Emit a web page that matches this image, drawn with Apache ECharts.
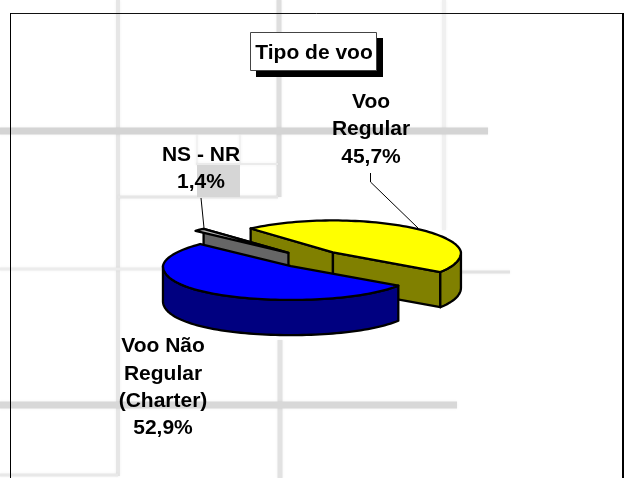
<!DOCTYPE html>
<html>
<head>
<meta charset="utf-8">
<style>html,body{margin:0;padding:0;background:#fff}#c{width:624px;height:478px}</style>
<script src="https://cdn.jsdelivr.net/npm/echarts@6/dist/echarts.min.js"></script>
</head>
<body>
<div id="c"></div>
<script>
var chartTitle = 'Tipo de voo';
var categories = ['Voo\nRegular', 'NS - NR', 'Voo Não\nRegular\n(Charter)'];
var values = [45.7, 1.4, 52.9];
var topColors = ['#FFFF00', '#B8B8B8', '#0000FF'];
var sideColors = ['#808000', '#666666', '#000080'];

// 3D pie geometry, in pie-radius units
var frontAngle = 33, explode = 0.258, tiltFront = 0.282, tiltBack = 0.25, depth = 0.275;
var backShrink = [0.04, 0, 0.04];
var total = values.reduce(function (a, b) { return a + b; }, 0);
var RAD = Math.PI / 180;

// Angles run clockwise on screen from the front-right boundary, last category first
function slice(i) {
  var spans = [], start = frontAngle;
  for (var j = values.length - 1; j >= 0; j--) {
    var sweep = values[j] / total * 360;
    spans[j] = [start, start + sweep];
    start += sweep;
  }
  return spans[i];
}
function rimPt(i, c, deg, drop) {
  var s = Math.sin(deg * RAD), k = Math.cos(deg * RAD);
  if (s > 0) {
    return [c[0] + k, c[1] - s * (0.30 - 0.035 * s) - drop];
  }
  return [c[0] + k * (1 + backShrink[i] * s), c[1] - s * tiltBack - drop];
}

function renderItem(params, api) {
  var i = api.value(0);
  var sp = slice(i);
  var mid = (sp[0] + sp[1]) / 2;
  var ms = Math.sin(mid * RAD);
  var c = [explode * Math.cos(mid * RAD), -explode * ms * (ms > 0 ? tiltFront : tiltBack)];
  var toPx = function (p) { return api.coord(p); };
  var kids = [];
  function poly(pts, fill) {
    kids.push({ type: 'polygon', shape: { points: pts.map(toPx) },
      style: { fill: fill, stroke: '#000', lineWidth: 2.3, lineJoin: 'round' } });
  }
  var c2 = [c[0], c[1] - depth];
  // Cut faces turned to the viewer
  var faces = i === 0 ? [sp[0], sp[1]] : (i === 1 ? [sp[1]] : []);
  faces.forEach(function (deg) {
    poly([c, rimPt(i, c, deg, 0), rimPt(i, c, deg, depth), c2], sideColors[i]);
  });
  // Outer wall: front half of the rim only
  var lo = sp[0], hi = sp[1], d;
  [[0, 180], [360, 540]].forEach(function (r) {
    var s = Math.max(lo, r[0]), e = Math.min(hi, r[1]);
    if (e <= s) return;
    var up = [], dn = [];
    for (d = s; d < e; d += 2) { up.push(rimPt(i, c, d, 0)); dn.push(rimPt(i, c, d, depth)); }
    up.push(rimPt(i, c, e, 0)); dn.push(rimPt(i, c, e, depth));
    poly(up.concat(dn.reverse()), sideColors[i]);
  });
  // Top face
  var top = [c];
  for (d = lo; d < hi; d += 2) top.push(rimPt(i, c, d, 0));
  top.push(rimPt(i, c, hi, 0));
  poly(top, topColors[i]);
  return { type: 'group', children: kids };
}

function fmt(v) { return v.toFixed(1).replace('.', ',') + '%'; }
function label(x, y, text) {
  return { type: 'text', x: x, y: y, z: 20, silent: true,
    style: { text: text, align: 'center', verticalAlign: 'middle', fill: '#000',
      font: 'bold 21px "Liberation Sans", Arial, sans-serif', lineHeight: 27.4 } };
}
function bgLine(x1, y1, x2, y2, w, col) {
  return { type: 'line', z: 0, silent: true, shape: { x1: x1, y1: y1, x2: x2, y2: y2 },
    style: { stroke: col, lineWidth: w, shadowBlur: 3, shadowColor: 'rgba(0,0,0,0.06)' } };
}
function leader(points) {
  return { type: 'polyline', z: 5, silent: true, shape: { points: points },
    style: { stroke: '#000', lineWidth: 1, fill: null } };
}

var chart = echarts.init(document.getElementById('c'), null, { renderer: 'canvas' });
chart.setOption({
  animation: false,
  backgroundColor: '#ffffff',
  grid: { left: 55.4, top: 130.7, width: 512, height: 256, containLabel: false },
  xAxis: { type: 'value', min: -2, max: 2, show: false },
  yAxis: { type: 'value', min: -1, max: 1, show: false },
  series: [{
    type: 'custom', coordinateSystem: 'cartesian2d', z: 10, silent: true, clip: false,
    renderItem: renderItem,
    encode: { x: 1, y: 1 },
    data: values.map(function (v, i) { return [i, 0, v]; })
  }],
  graphic: { elements: [
    bgLine(118, 0, 118, 476, 4, '#e6e6e6'),
    bgLine(279, 0, 279, 197, 5, '#dedede'),
    bgLine(280, 340, 280, 478, 5, '#e2e2e2'),
    bgLine(444, 0, 444, 230, 4, '#f0f0f0'),
    bgLine(0, 131, 488, 131, 7, '#d4d4d4'),
    bgLine(197, 135, 197, 165, 2, '#f2f2f2'),
    bgLine(240, 135, 240, 165, 2, '#f2f2f2'),
    bgLine(196, 164, 278, 164, 2, '#ebebeb'),
    bgLine(118, 197, 278, 197, 3, '#e6e6e6'),
    bgLine(0, 269, 165, 269, 3, '#ececec'),
    bgLine(461, 272, 510, 272, 3, '#e2e2e2'),
    bgLine(0, 405, 457, 405, 7, '#d8d8d8'),
    bgLine(0, 475, 118, 475, 3, '#e8e8e8'),
    { type: 'rect', z: 0, silent: true, shape: { x: 197, y: 165, width: 43, height: 32 }, style: { fill: '#d6d6d6' } },
    { type: 'line', z: 2, silent: true, shape: { x1: 10.5, y1: 13.5, x2: 622, y2: 13.5 }, style: { stroke: '#111', lineWidth: 1 } },
    { type: 'line', z: 2, silent: true, shape: { x1: 10.5, y1: 13, x2: 10.5, y2: 478 }, style: { stroke: '#000', lineWidth: 1 } },
    { type: 'line', z: 2, silent: true, shape: { x1: 623, y1: 13, x2: 623, y2: 478 }, style: { stroke: '#000', lineWidth: 2 } },
    { type: 'rect', z: 20, silent: true, shape: { x: 256, y: 38, width: 127, height: 39 }, style: { fill: '#000' } },
    { type: 'rect', z: 21, silent: true, shape: { x: 250.5, y: 32.5, width: 126, height: 38 }, style: { fill: '#fff', stroke: '#444', lineWidth: 1 } },
    Object.assign(label(314, 53, chartTitle), { z: 22 }),
    label(371, 129.5, categories[0] + '\n' + fmt(values[0])),
    label(201, 169, categories[1] + '\n' + fmt(values[1])),
    label(163, 387.5, categories[2] + '\n' + fmt(values[2])),
    leader([[370.5, 173], [370.5, 182], [418, 228]]),
    leader([[201, 198], [204, 228]])
  ] }
});
</script>
</body>
</html>
